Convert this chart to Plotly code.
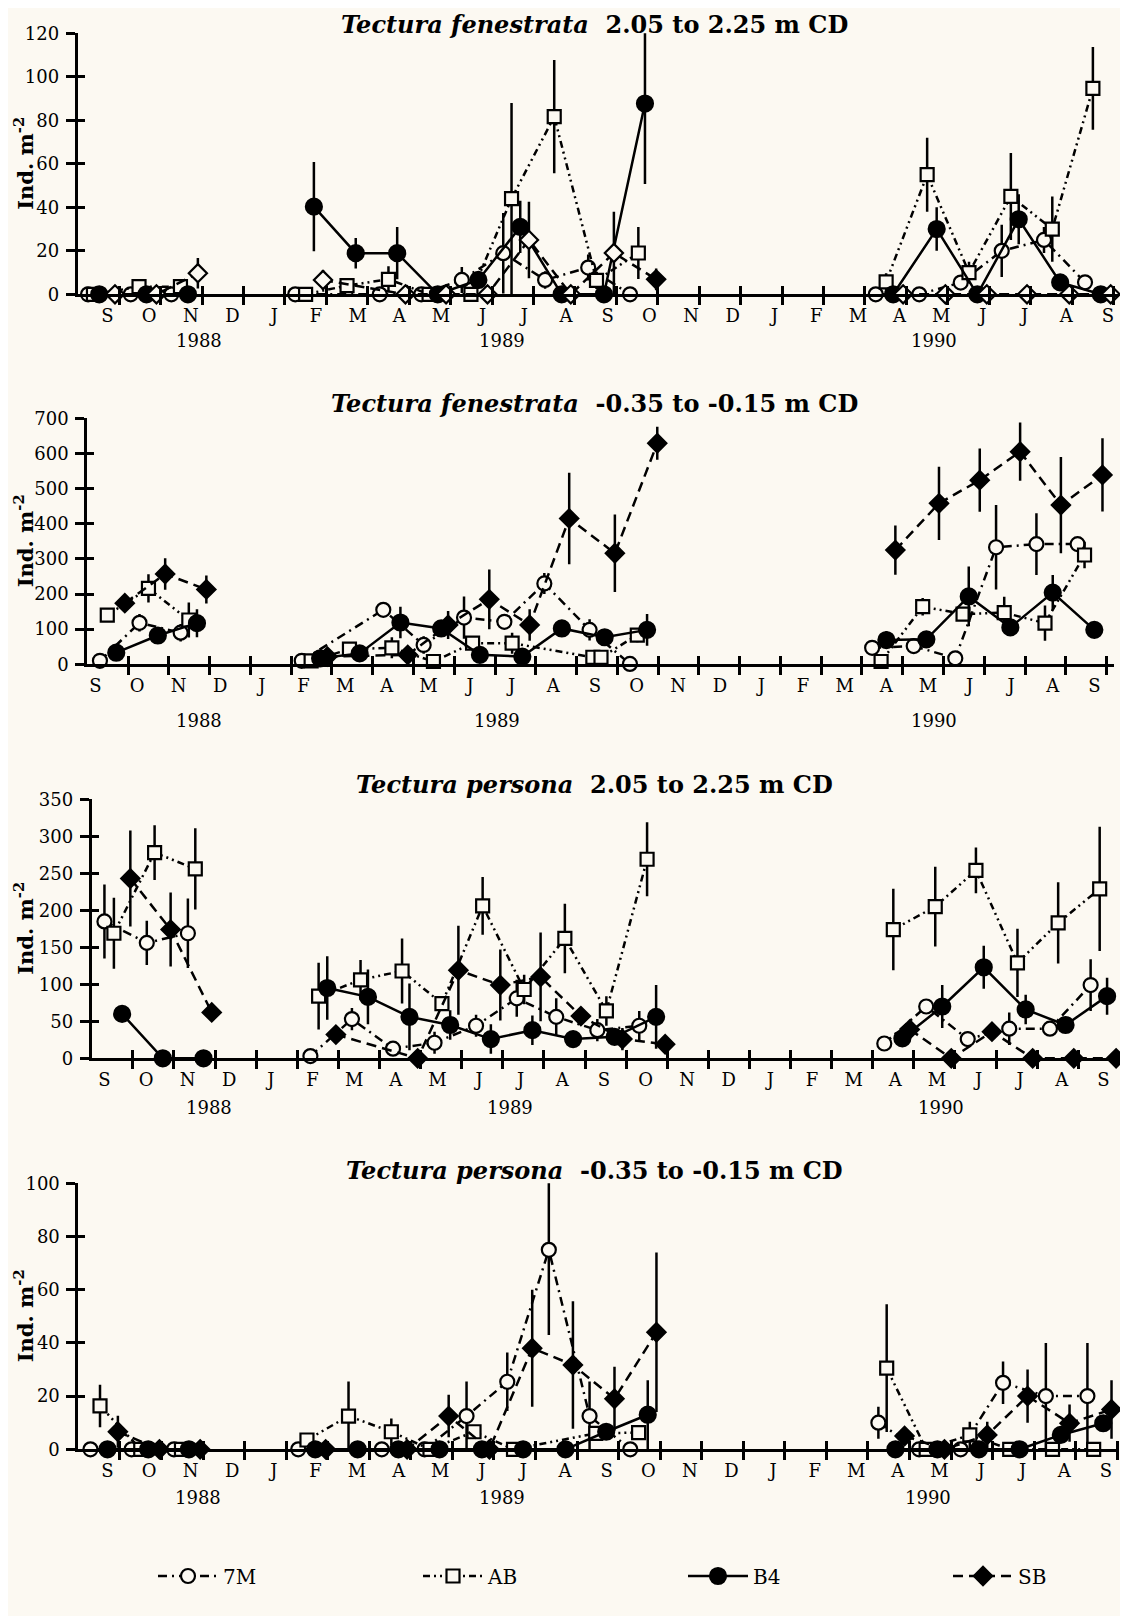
import plotly.graph_objects as go

# ---------------- data (x = months since 1 Sep 1988) ----------------
MONTH_LETTERS = ["S","O","N","D","J","F","M","A","M","J","J","A",
                 "S","O","N","D","J","F","M","A","M","J","J","A","S"]
YEARS = ["1988", "1989", "1990"]
SERIES = ["7M", "AB", "B4", "SB"]
TITLES = ["<i>Tectura fenestrata</i>  2.05 to 2.25 m CD",
          "<i>Tectura fenestrata</i>  -0.35 to -0.15 m CD",
          "<i>Tectura persona</i>  2.05 to 2.25 m CD",
          "<i>Tectura persona</i>  -0.35 to -0.15 m CD"]
Y_MAX = [120, 700, 350, 100]
Y_STEP = [20, 100, 50, 20]

# Panel 1: T. fenestrata 2.05 to 2.25 m CD
P1_7M_X = [0.25,1.28,2.26,None,5.25,7.29,8.29,9.27,10.27,11.28,12.32,13.33,None,19.26,20.31,21.31,22.30,23.32,24.31]
P1_7M_Y = [0,0,0,None,0,0,0,6.6,18.9,6.6,12.3,0,None,0,0,5.4,20,25,5.5]
P1_7M_E = [0,0,0,None,0,0,0,6,18.5,4,6,0,None,0,0,3,12,6,3]
P1_AB_X = [0.38,1.48,2.48,None,5.5,6.5,7.5,8.48,9.49,10.47,11.5,12.52,13.53,None,19.51,20.5,21.51,22.52,23.52,24.5]
P1_AB_Y = [0,3.5,3.5,None,0,4,6.9,0,0,44,81.7,6.4,19,None,5.7,55,10,45,30,94.7]
P1_AB_E = [0,2,2,None,0,2,6,0,0,44,26,4,12,None,4,17,5,20,15,19]
P1_B4_X = [0.52,1.66,2.66,None,5.7,6.71,7.71,8.69,9.67,10.68,11.68,12.7,13.69,None,19.68,20.73,21.71,22.71,23.71,24.69]
P1_B4_Y = [0,0,0,None,40.3,18.9,18.9,0,6.6,31,0,0,87.7,None,0,30,0,34.5,5.5,0]
P1_B4_E = [0,0,0,None,20.5,7,12,0,4,12,0,0,37,None,0,10,0,11.5,3,0]
P1_SB_X = [0.9,1.9,2.9,None,5.92,7.91,8.89,9.89,10.89,11.9,12.94,13.96,None,19.92,20.94,21.94,22.91,23.93,24.93]
P1_SB_Y = [0,0,9.7,None,6.6,0,0,0,25,0,19,6.9,None,0,0,0,0,0,0]
P1_SB_E = [0,0,7,None,4.6,0,0,0,17.6,0,19,5,None,0,0,0,0,0,0]
P1_SB_FILLED = [0,0,0,0,0,0,0,0,0,0,0,1,0,0,0,0,0,0,0]

# Panel 2: T. fenestrata -0.35 to -0.15 m CD
P2_7M_X = [0.31,1.28,2.29,None,5.26,7.26,8.25,9.24,10.23,11.21,12.32,13.31,None,19.25,20.27,21.29,22.29,23.28,24.29]
P2_7M_Y = [10,118,90,None,10,155,55,133,121,230,98,1,None,47,52,17,333,342,342]
P2_7M_E = [0,25,25,None,0,15,25,60,20,30,30,0,None,15,15,0,120,88,20]
P2_AB_X = [0.49,1.5,2.49,None,5.49,6.43,7.47,8.49,9.45,10.42,12.4,12.6,13.49,None,19.47,20.49,21.48,22.49,23.49,24.46]
P2_AB_Y = [140,216,126,None,10,43,47,8,60,60,20,20,83,None,8,164,143,147,117,311]
P2_AB_E = [0,40,50,None,0,0,30,0,0,30,0,0,20,None,0,25,0,45,50,38]
P2_B4_X = [0.71,1.73,2.69,None,5.71,6.68,7.68,8.68,9.63,10.67,11.64,12.69,13.73,None,19.6,20.58,21.62,22.64,23.68,24.7]
P2_B4_Y = [33,82,117,None,17,31,119,102,27,22,102,77,98,None,69,71,193,105,204,98]
P2_B4_E = [0,0,40,None,0,0,45,0,0,0,0,0,45,None,25,0,85,0,50,0]
P2_SB_X = [0.92,1.91,2.92,None,5.89,7.86,8.85,9.86,10.85,11.82,12.94,13.98,None,19.82,20.89,21.89,22.88,23.88,24.9]
P2_SB_Y = [174,257,213,None,22,27,112,185,112,415,316,629,None,325,458,524,605,453,539]
P2_SB_E = [0,45,40,None,0,0,40,85,45,130,110,47,None,70,104,90,83,137,104]

# Panel 3: T. persona 2.05 to 2.25 m CD
P3_7M_X = [0.31,1.34,2.34,None,5.32,6.33,7.33,8.34,9.35,10.34,11.3,12.3,13.32,None,19.28,20.3,21.31,22.32,23.31,24.3]
P3_7M_Y = [185,156,169,None,3,53,13,21,44,81,56,38,44,None,20,70,26,40,40,99]
P3_7M_E = [50,30,47,None,0,15,0,15,15,25,25,15,20,None,0,0,10,22,10,35]
P3_AB_X = [0.54,1.53,2.52,None,5.52,6.54,7.55,8.52,9.51,10.52,11.51,12.52,13.51,None,19.5,20.52,21.51,22.52,23.51,24.52]
P3_AB_Y = [169,278,256,None,84,106,118,74,206,93,162,64,269,None,174,205,254,129,183,229]
P3_AB_E = [48,37,55,None,45,27,44,0,39,20,47,20,50,None,55,54,31,46,55,84]
P3_B4_X = [0.74,1.73,2.72,None,5.73,6.72,7.73,8.72,9.71,10.72,11.71,12.72,13.73,None,19.72,20.69,21.7,22.72,23.69,24.7]
P3_B4_Y = [60,0,0,None,95,83,56,45,26,38,26,29,56,None,27,70,123,66,45,84]
P3_B4_E = [0,0,0,None,43,37,45,20,20,20,0,0,43,None,0,29,29,20,0,25]
P3_SB_X = [0.94,1.92,2.92,None,5.94,7.93,8.92,9.94,10.92,11.9,12.91,13.95,None,19.9,20.91,21.9,22.89,23.89,24.92]
P3_SB_Y = [243,174,62,None,32,0,119,99,110,57,26,19,None,39,0,36,0,0,0]
P3_SB_E = [65,50,0,None,0,0,60,48,60,0,15,0,None,0,0,0,0,0,0]

# Panel 4: T. persona -0.35 to -0.15 m CD
P4_7M_X = [0.29,1.28,2.3,None,5.29,7.3,8.33,9.34,10.32,11.32,12.3,13.28,None,19.25,20.23,21.23,22.25,23.28,24.28]
P4_7M_Y = [0,0,0,None,0,0,0,12.5,25.4,75,12.5,0,None,10,0,0,25,20,20]
P4_7M_E = [0,0,0,None,0,0,0,13,11,32,13,0,None,6,0,0,8,20,20]
P4_AB_X = [0.52,1.5,2.48,None,5.5,6.5,7.53,8.46,9.52,10.47,12.45,13.48,None,19.45,20.4,21.45,22.41,23.44,24.43]
P4_AB_Y = [16.3,0,0,None,3.5,12.5,6.6,0,6.6,0,6,6.3,None,30.5,0,5.4,0,0,0]
P4_AB_E = [8,0,0,None,0,13,5,0,0,0,0,0,None,24,0,5,0,0,0]
P4_B4_X = [0.7,1.68,2.66,None,5.7,6.72,7.7,8.69,9.71,10.7,11.72,12.7,13.7,None,19.66,20.67,21.67,22.65,23.64,24.66]
P4_B4_Y = [0,0,0,None,0,0,0,0,0,0,0,6.6,13,None,0,0,0,0,5.4,9.8]
P4_B4_E = [0,0,0,None,0,0,0,0,0,0,0,0,13,None,0,0,0,0,0,0]
P4_SB_X = [0.95,1.95,2.93,None,5.95,7.91,8.91,9.89,10.92,11.9,12.9,13.91,None,19.88,20.84,21.87,22.84,23.85,24.86]
P4_SB_Y = [6.6,0,0,None,0,0,12.5,0,38,31.7,19,44,None,5,0,5.4,20,9.8,15]
P4_SB_E = [6,0,0,None,0,0,8,0,22,24,12,30,None,0,0,5,10,7,11]

PANELS = [
    {"7M": (P1_7M_X, P1_7M_Y, P1_7M_E), "AB": (P1_AB_X, P1_AB_Y, P1_AB_E),
     "B4": (P1_B4_X, P1_B4_Y, P1_B4_E), "SB": (P1_SB_X, P1_SB_Y, P1_SB_E)},
    {"7M": (P2_7M_X, P2_7M_Y, P2_7M_E), "AB": (P2_AB_X, P2_AB_Y, P2_AB_E),
     "B4": (P2_B4_X, P2_B4_Y, P2_B4_E), "SB": (P2_SB_X, P2_SB_Y, P2_SB_E)},
    {"7M": (P3_7M_X, P3_7M_Y, P3_7M_E), "AB": (P3_AB_X, P3_AB_Y, P3_AB_E),
     "B4": (P3_B4_X, P3_B4_Y, P3_B4_E), "SB": (P3_SB_X, P3_SB_Y, P3_SB_E)},
    {"7M": (P4_7M_X, P4_7M_Y, P4_7M_E), "AB": (P4_AB_X, P4_AB_Y, P4_AB_E),
     "B4": (P4_B4_X, P4_B4_Y, P4_B4_E), "SB": (P4_SB_X, P4_SB_Y, P4_SB_E)},
]

# ---------------- layout / style ----------------
OFF_X, OFF_Y = 8, 8          # page body margin
W, H = 1112, 1608            # keep the page inside the window (no scrollbars)
BG = "#fcf9f2"
FONT = "DejaVu Serif"
# plot areas in window pixels: (left, right, top(y=max), bottom(y=0)), x range end
AREAS = [(77.7, 1119.0, 33.3, 294.3, 25.13),
         (87.3, 1114.3, 418.3, 664.3, 25.19),
         (91.7, 1119.0, 799.3, 1058.3, 24.99),
         (78.4, 1119.0, 1183.3, 1449.3, 25.04)]
LABEL_START = [0.72, 0.20, 0.31, 0.70]
LABEL_STEP = [1.006, 1.021, 1.0125, 1.001]
YEAR_POS = [[2.93, 10.25, 20.66], [2.74, 10.04, 20.76], [2.85, 10.18, 20.65], [2.88, 10.2, 20.45]]
YEAR_Y = [340, 720, 1107, 1497]
TITLE_Y = [None, 404, 784, 1170]   # first title sits against the top edge


def px_x(p):
    return (p - OFF_X) / W


def px_y(p):
    return 1 - (p - OFF_Y) / H


STYLE = {
    "7M": dict(symbol="circle", size=14, dash="9px,5px,2px,5px", filled=False),
    "AB": dict(symbol="square", size=13, dash="7px,4px,2px,4px,2px,4px", filled=False),
    "B4": dict(symbol="circle", size=16, dash="solid", filled=True),
    "SB": dict(symbol="diamond", size=14, dash="10px,6px", filled=True),
}


def axid(n):
    return "" if n == 1 else str(n)


fig = go.Figure()
layout = dict(width=W, height=H, margin=dict(l=0, r=0, t=0, b=0, autoexpand=False),
              paper_bgcolor=BG, plot_bgcolor=BG, font=dict(family=FONT, size=18, color="black"),
              showlegend=True)
annotations = []

for i, panel in enumerate(PANELS):
    n = i + 1
    a = axid(n)
    ao = axid(n + 4)
    xl, xr, yt, yb, xmax = AREAS[i]
    xdom = [px_x(xl), px_x(xr)]
    ydom = [px_y(yb), px_y(yt)]
    ymax = Y_MAX[i]
    yticks = list(range(0, ymax + 1, Y_STEP[i]))
    bounds = list(range(1, 26))
    labpos = [LABEL_START[i] + LABEL_STEP[i] * k for k in range(len(MONTH_LETTERS))]

    for s in SERIES:
        xs, ys, es = panel[s]
        st = STYLE[s]
        if n == 1 and s == "SB":
            fill = ["black" if f else BG for f in P1_SB_FILLED]
        else:
            fill = "black" if st["filled"] else BG
        fig.add_trace(go.Scatter(
            x=xs, y=ys, mode="lines+markers", name=s,
            xaxis=f"x{a}", yaxis=f"y{a}",
            line=dict(color="black", width=2.5, dash=st["dash"]),
            marker=dict(symbol=st["symbol"], size=st["size"], color=fill,
                        line=dict(color="black", width=2.2)),
            error_y=dict(type="data", array=es, visible=True, width=0, thickness=2.5, color="black"),
            cliponaxis=False, connectgaps=False,
            showlegend=(n == 2)))

    # main axes
    layout[f"xaxis{a}"] = dict(
        domain=xdom, range=[0, xmax], anchor=f"y{a}", showgrid=False, zeroline=False,
        showline=True, linecolor="black", linewidth=3, automargin=False,
        tickmode="array", tickvals=labpos, ticktext=MONTH_LETTERS,
        ticks="outside", ticklen=3, tickcolor="rgba(0,0,0,0)",
        tickfont=dict(family=FONT, size=18),
        minor=dict(tickmode="array", tickvals=bounds, ticks="outside", ticklen=8,
                   tickwidth=2.5, tickcolor="black", showgrid=False))
    layout[f"yaxis{a}"] = dict(
        domain=ydom, range=[0, ymax], anchor=f"x{a}", showgrid=False, zeroline=False,
        showline=True, linecolor="black", linewidth=3, automargin=False,
        tickmode="array", tickvals=yticks, ticks="outside", ticklen=9, tickwidth=2.5,
        tickcolor="black", tickfont=dict(family=FONT, size=18), ticklabelstandoff=3)
    # overlay axes for the inner half of the crossing ticks
    layout[f"xaxis{ao}"] = dict(
        overlaying=f"x{a}", anchor=f"y{a}", range=[0, xmax], showgrid=False, zeroline=False,
        showline=False, showticklabels=False, tickmode="array", tickvals=bounds,
        ticks="inside", ticklen=8, tickwidth=2.5, tickcolor="black", automargin=False)
    layout[f"yaxis{ao}"] = dict(
        overlaying=f"y{a}", anchor=f"x{a}", side="left", range=[0, ymax], showgrid=False,
        zeroline=False, showline=False, showticklabels=False, tickmode="array",
        tickvals=yticks, ticks="inside", ticklen=7, tickwidth=2.5, tickcolor="black",
        automargin=False)
    fig.add_trace(go.Scatter(x=[None], y=[None], xaxis=f"x{ao}", yaxis=f"y{a}",
                             showlegend=False, hoverinfo="skip"))
    fig.add_trace(go.Scatter(x=[None], y=[None], xaxis=f"x{a}", yaxis=f"y{ao}",
                             showlegend=False, hoverinfo="skip"))

    # title
    if TITLE_Y[i] is None:
        ty, tanchor = 1.0, "top"
    else:
        ty, tanchor = px_y(TITLE_Y[i]), "middle"
    annotations.append(dict(text=f"<b>{TITLES[i]}</b>", xref="paper", yref="paper",
                            x=px_x(594), y=ty, showarrow=False,
                            xanchor="center", yanchor=tanchor,
                            font=dict(family=FONT, size=24)))
    # y-axis title
    annotations.append(dict(text="<b>Ind. m<sup>-2</sup></b>", xref="paper", yref=f"y{a} domain",
                            x=px_x(24), y=0.5, showarrow=False, textangle=-90,
                            xanchor="center", yanchor="middle",
                            font=dict(family=FONT, size=21)))
    # years
    for yr, xp in zip(YEARS, YEAR_POS[i]):
        annotations.append(dict(text=yr, xref=f"x{a}", yref="paper", x=xp,
                                y=px_y(YEAR_Y[i]), showarrow=False,
                                xanchor="center", yanchor="middle",
                                font=dict(family=FONT, size=18)))

layout["annotations"] = annotations
layout["legend"] = dict(orientation="h", x=px_x(683), xanchor="center", y=px_y(1576),
                        yanchor="middle", font=dict(family=FONT, size=20),
                        entrywidth=190, entrywidthmode="pixels", itemwidth=60,
                        bgcolor="rgba(0,0,0,0)", traceorder="normal")
fig.update_layout(**layout)
fig.write_html("out.html")
